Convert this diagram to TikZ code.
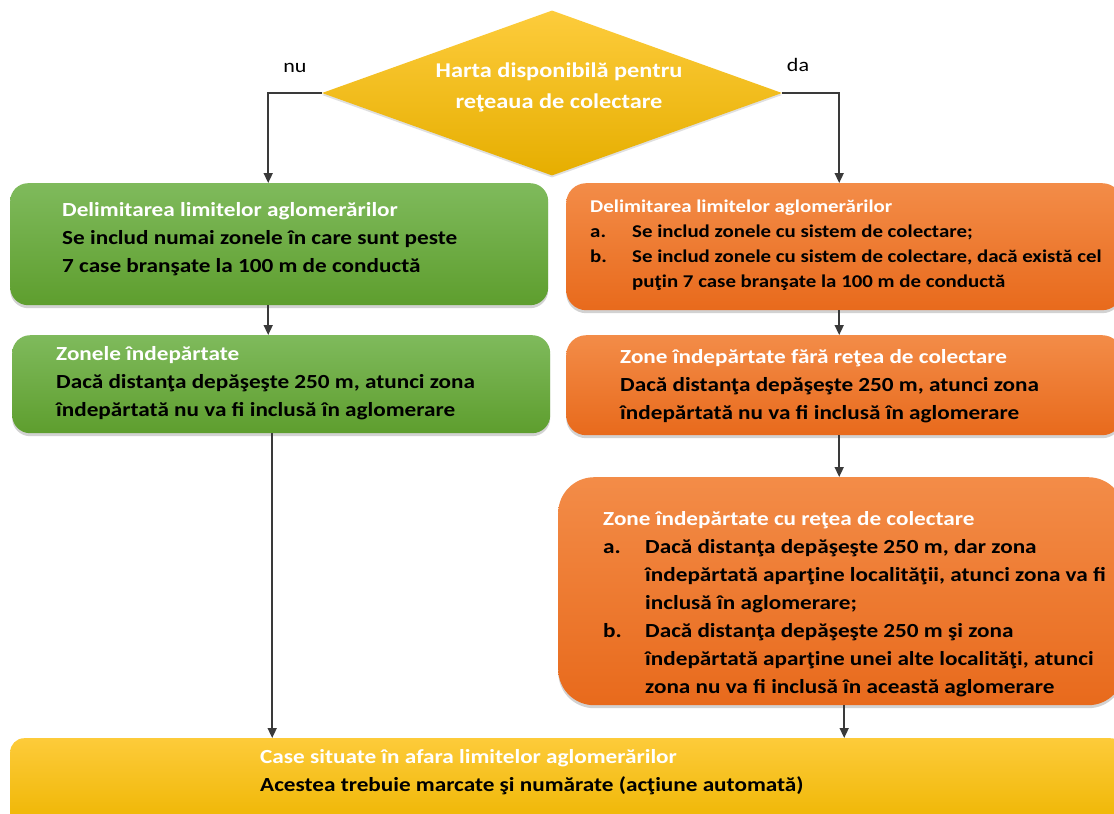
\documentclass[tikz,border=0pt]{standalone}
\usepackage{fontspec}
\setmainfont{Carlito}[FakeStretch=1.16]
\usetikzlibrary{shapes.geometric,shadows,arrows.meta}
\definecolor{gtop}{HTML}{7FBA5C}
\definecolor{gbot}{HTML}{5E9E2E}
\definecolor{otop}{HTML}{F38C48}
\definecolor{obot}{HTML}{E86A1C}
\definecolor{ytop}{HTML}{FDCB3A}
\definecolor{ybot}{HTML}{EEB500}
\definecolor{dtop}{HTML}{FDCC3C}
\definecolor{dbot}{HTML}{E6AE00}
\definecolor{arrc}{HTML}{3A3A3A}
\tikzset{
  boxbase/.style={draw=none, anchor=north west, inner sep=0pt,
    drop shadow={opacity=0.35, shadow xshift=0pt, shadow yshift=-3pt}},
  greenbox/.style={boxbase, rounded corners=18pt, top color=gtop, bottom color=gbot},
  orangebox/.style={boxbase, rounded corners=#1, top color=otop, bottom color=obot},
  yellowbox/.style={boxbase, rounded corners=14pt, top color=ytop, bottom color=ybot},
  txt/.style={anchor=north west, inner sep=0pt, align=left, text=black,
    font=\bfseries\fontsize{20}{28}\selectfont},
  smalltxt/.style={txt, font=\bfseries\fontsize{18}{25}\selectfont},
  lbl/.style={inner sep=0pt, font=\fontsize{19}{22}\selectfont},
  conn/.style={draw=arrc, line width=1.6pt, -{Triangle[width=9pt,length=10pt]}},
}
\newcommand{\wt}[1]{\textcolor{white}{#1}}
\newcommand{\itm}[1]{\makebox[42pt][l]{#1}}
\newcommand{\ind}{\hspace*{42pt}}
\begin{document}
\begin{tikzpicture}[x=1pt,y=-1pt]
\useasboundingbox (0,0) rectangle (1114,814);
\fill[white] (0,0) rectangle (1114,814);

% decision
\node[diamond, aspect=2.79, minimum width=460pt, minimum height=165pt, inner sep=0pt,
  top color=dtop, bottom color=dbot, draw=none,
  drop shadow={opacity=0.25, shadow xshift=0pt, shadow yshift=-2pt}] (dia) at (552,93) {};
\node[align=center, inner sep=0pt, text=white, font=\bfseries\fontsize{21}{31}\selectfont]
  (diat) at (559,87) {Harta disponibilă pentru\\reţeaua de colectare};
\node[lbl] (nu) at (295,68) {nu};
\node[lbl] (da) at (798,65) {da};

% boxes
\node[greenbox, minimum width=538pt, minimum height=122pt] (g1) at (10,183) {};
\node[orangebox=20pt, minimum width=556pt, minimum height=127pt] (o1) at (566,183) {};
\node[greenbox, minimum width=538pt, minimum height=98pt] (g2) at (12,335) {};
\node[orangebox=20pt, minimum width=556pt, minimum height=100pt] (o2) at (566,335) {};
\node[orangebox=36pt, minimum width=566pt, minimum height=228pt] (o3) at (558,477) {};
\node[yellowbox, minimum width=1114pt, minimum height=90pt] (yb) at (10,738) {};

% texts
\node[txt] (g1t) at (62,202) {\wt{Delimitarea limitelor aglomerărilor}\\
  Se includ numai zonele în care sunt peste\\
  7 case branşate la 100 m de conductă};
\node[smalltxt] (o1t) at (590,200) {\wt{Delimitarea limitelor aglomerărilor}\\
  \itm{a.}Se includ zonele cu sistem de colectare;\\
  \itm{b.}Se includ zonele cu sistem de colectare, dacă există cel\\
  \ind puţin 7 case branşate la 100 m de conductă};
\node[txt] (g2t) at (56,346) {\wt{Zonele îndepărtate}\\
  Dacă distanţa depăşeşte 250 m, atunci zona\\
  îndepărtată nu va fi inclusă în aglomerare};
\node[txt] (o2t) at (620,349) {\wt{Zone îndepărtate fără reţea de colectare}\\
  Dacă distanţa depăşeşte 250 m, atunci zona\\
  îndepărtată nu va fi inclusă în aglomerare};
\node[txt] (o3t) at (603,511) {\wt{Zone îndepărtate cu reţea de colectare}\\
  \itm{a.}Dacă distanţa depăşeşte 250 m, dar zona\\
  \ind îndepărtată aparţine localităţii, atunci zona va fi\\
  \ind inclusă în aglomerare;\\
  \itm{b.}Dacă distanţa depăşeşte 250 m şi zona\\
  \ind îndepărtată aparţine unei alte localităţi, atunci\\
  \ind zona nu va fi inclusă în această aglomerare};
\node[txt] (ybt) at (260,749) {\wt{Case situate în afara limitelor aglomerărilor}\\
  Acestea trebuie marcate şi numărate (acţiune automată)};

% connectors
\draw[conn] (dia.west) -| ([xshift=-11pt]g1.north);
\draw[conn] (dia.east) -| ([xshift=-5pt]o1.north);
\draw[conn] ([xshift=-11pt]g1.south) -- ([xshift=-11pt]g1.south |- g2.north);
\draw[conn] ([xshift=-5pt]o1.south) -- ([xshift=-5pt]o1.south |- o2.north);
\draw[conn] ([xshift=-5pt]o2.south) -- ([xshift=-5pt]o2.south |- o3.north);
\draw[conn] ([xshift=3pt]o3.south) -- ([xshift=3pt]o3.south |- yb.north);
\draw[conn] ([xshift=-9pt]g2.south) -- ([xshift=-9pt]g2.south |- yb.north);
\end{tikzpicture}
\end{document}
